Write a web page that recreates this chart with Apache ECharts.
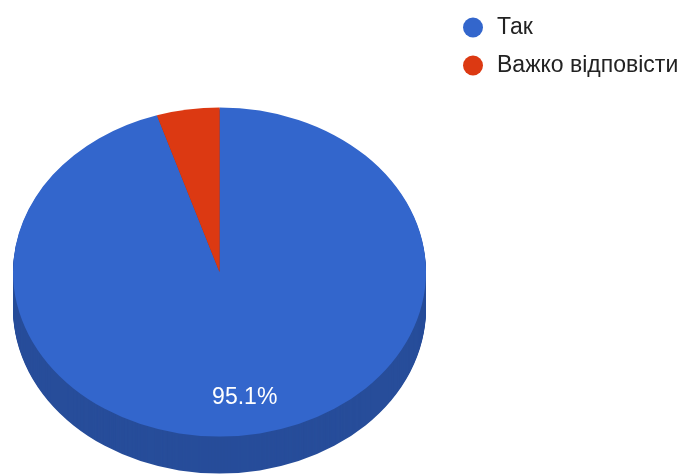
<!DOCTYPE html>
<html>
<head>
<meta charset="utf-8">
<script src="https://cdn.jsdelivr.net/npm/echarts@6/dist/echarts.min.js"></script>
<style>
html,body{margin:0;padding:0;background:#fff;}
#chart{width:683px;height:475px;}
</style>
</head>
<body>
<div id="chart"></div>
<script>
const categories = ['Так', 'Важко відповісти'];
const values = [95.1, 4.9];
const colors = ['#3366cc', '#dc3912'];
const sideColors = ['#274d9a', '#a52b0e'];

const CX = 219.5, CY = 272, R = 206.5, SY = 0.797, DEPTH = 37;
const total = values.reduce((a, b) => a + b, 0);

function sliceAngles(i) {
  let acc = 0;
  for (let j = 0; j < i; j++) acc += values[j];
  const s = -Math.PI / 2 + acc / total * Math.PI * 2;
  const e = s + values[i] / total * Math.PI * 2;
  return [s, e, values[i] / total];
}

function sector(s, e, fill, dy, z2) {
  return {
    type: 'sector',
    shape: { cx: CX, cy: CY, r: R, r0: 0, startAngle: s, endAngle: e, clockwise: true },
    x: 0, y: dy, scaleX: 1, scaleY: SY, originX: CX, originY: CY,
    style: { fill: fill },
    z2: z2
  };
}

const series = [];
// side walls
series.push({
  type: 'custom',
  name: 'side',
  coordinateSystem: 'none',
  silent: true,
  z: 1,
  data: values.map(v => [v]),
  renderItem: function (params, api) {
    const i = params.dataIndex;
    const [s, e] = sliceAngles(i);
    const children = [];
    for (let k = DEPTH; k >= 1; k--) children.push(sector(s, e, sideColors[i], k, 0));
    return { type: 'group', children: children };
  }
});
// top faces
categories.forEach(function (name, idx) {
  series.push({
    type: 'custom',
    name: name,
    coordinateSystem: 'none',
    z: 2,
    itemStyle: { color: colors[idx] },
    data: [[values[idx]]],
    renderItem: function (params, api) {
      const [s, e, frac] = sliceAngles(idx);
      const children = [sector(s, e, colors[idx], 0, 10)];
      if (frac > 0.05) {
        const m = (s + e) / 2;
        const lx = CX + 0.765 * R * Math.cos(m);
        const ly = CY + 0.765 * R * Math.sin(m) * SY;
        children.push({
          type: 'text',
          z2: 20,
          style: {
            text: (frac * 100).toFixed(1) + '%',
            x: lx + 1, y: ly + 1,
            fill: '#ffffff',
            font: '23px "Liberation Sans", Arial, sans-serif',
            align: 'center',
            verticalAlign: 'middle'
          }
        });
      }
      return { type: 'group', children: children };
    }
  });
});

const chart = echarts.init(document.getElementById('chart'), null, { renderer: 'canvas' });
chart.setOption({
  animation: false,
  legend: {
    data: categories,
    orient: 'vertical',
    left: 458,
    top: 11,
    icon: 'circle',
    itemWidth: 20,
    itemHeight: 20,
    itemGap: 15,
    selectedMode: false,
    textStyle: {
      fontSize: 23,
      fontFamily: '"Liberation Sans", Arial, sans-serif',
      color: '#222222',
      padding: [0, 0, 0, 9]
    }
  },
  series: series
});
</script>
</body>
</html>
